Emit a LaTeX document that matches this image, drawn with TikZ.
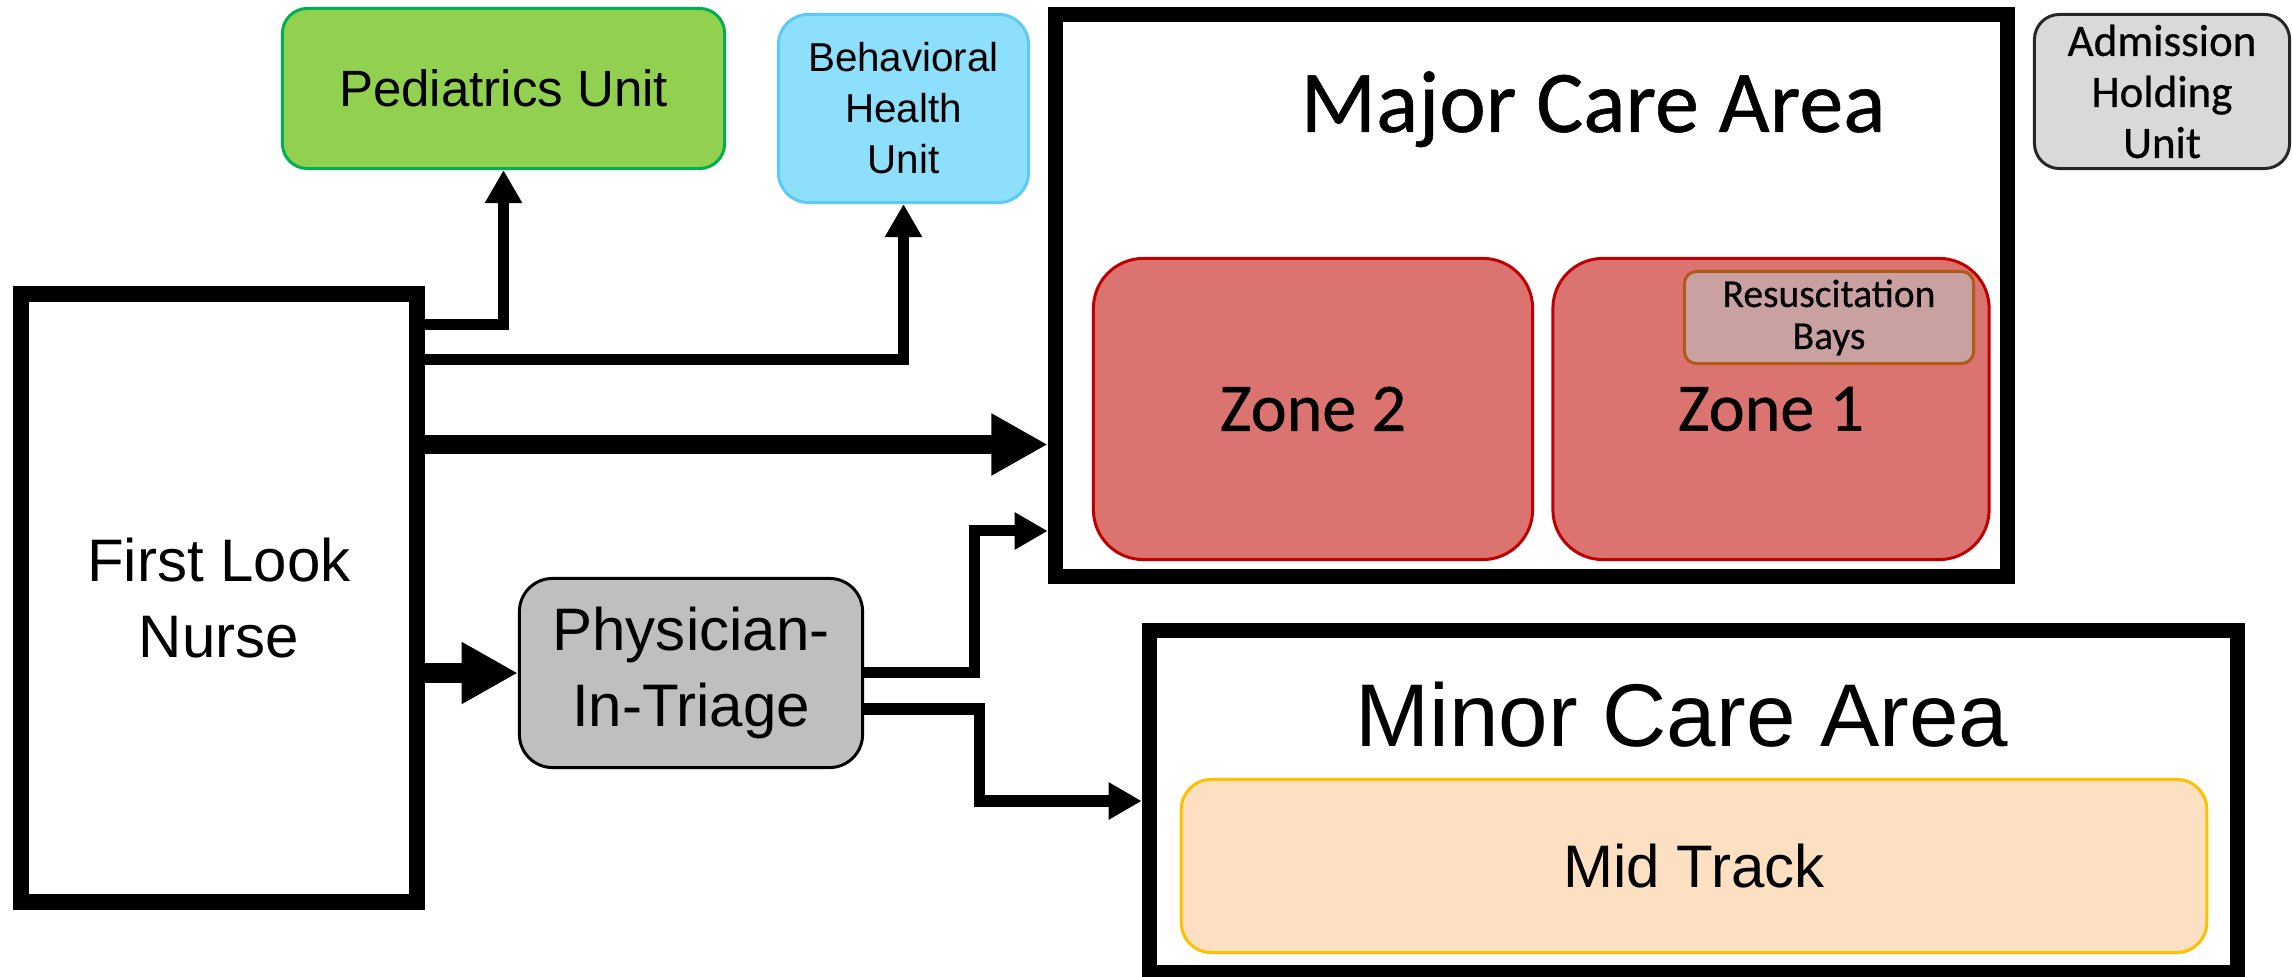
\documentclass[tikz,border=0pt]{standalone}
\usepackage{fontspec}
\setmainfont{Liberation Sans}
\newfontfamily\calibri[FakeBold=0.6]{Carlito}
\usetikzlibrary{arrows.meta}

\definecolor{pedfill}{HTML}{92D050}
\definecolor{peddraw}{HTML}{00B050}
\definecolor{bhfill}{HTML}{8EDFFC}
\definecolor{bhdraw}{HTML}{5BCBF5}
\definecolor{admfill}{HTML}{D9D9D9}
\definecolor{admdraw}{HTML}{262626}
\definecolor{zonefill}{HTML}{DB7370}
\definecolor{zonedraw}{HTML}{C00000}
\definecolor{resfill}{HTML}{C9A1A0}
\definecolor{resdraw}{HTML}{B05A18}
\definecolor{midfill}{HTML}{FDDFC2}
\definecolor{middraw}{HTML}{FFC000}
\definecolor{pitfill}{HTML}{BFBFBF}

\begin{document}
\begin{tikzpicture}[x=0.01cm, y=-0.01cm,
  unitbox/.style={draw, rounded corners=#1, line width=0.85pt, inner sep=0pt, align=center},
  unitbox/.default=7pt,
  areabox/.style={draw, line width=4.41pt, inner sep=0pt},
  conn/.style={line width=3.13pt, -{Triangle[length=9.4pt,width=10pt]}},
  bigconn/.style={line width=5.41pt, -{Triangle[length=16pt,width=16.5pt]}}
]
\useasboundingbox (0,0) rectangle (2292,977);

% large care areas
\node[areabox, minimum width=9.515cm, minimum height=5.615cm] (major) at (1531.5,295.5) {};
\node[areabox, minimum width=10.875cm, minimum height=3.415cm] (minor) at (1693.5,801.5) {};

% area titles
\node[anchor=base, inner sep=0pt, font=\calibri\fontsize{25.04pt}{30pt}\selectfont] (majortitle) at (1593,132) {Major Care Area};
\node[anchor=base, inner sep=0pt, font=\fontsize{25.32pt}{30pt}\selectfont] (minortitle) at (1682,747) {Minor Care Area};

% zones inside the major care area
\node[unitbox=14.2pt, fill=zonefill, draw=zonedraw, minimum width=4.39cm, minimum height=3.01cm,
      font=\calibri\fontsize{19.35pt}{23pt}\selectfont] (zone2) at (1313,409) {Zone 2};
\node[unitbox=14.2pt, fill=zonefill, draw=zonedraw, minimum width=4.36cm, minimum height=3.01cm,
      font=\calibri\fontsize{19.35pt}{23pt}\selectfont] (zone1) at (1771,409) {Zone 1};
\node[unitbox=3.4pt, fill=resfill, draw=resdraw, minimum width=2.89cm, minimum height=0.92cm,
      font=\calibri\fontsize{11.24pt}{11.95pt}\selectfont] (resus) at (1829,317.5) {\raisebox{-1.2pt}{Resuscitation}\\\raisebox{-1.2pt}{Bays}};

% mid track inside the minor care area
\node[unitbox=8.5pt, fill=midfill, draw=middraw, minimum width=10.25cm, minimum height=1.73cm,
      font=\fontsize{17.07pt}{21pt}\selectfont] (mid) at (1694,866) {Mid Track};

% separate units
\node[unitbox=7.1pt, fill=pedfill, draw=peddraw, minimum width=4.42cm, minimum height=1.60cm,
      font=\fontsize{14.51pt}{17pt}\selectfont] (ped) at (503.5,88.5) {Pediatrics Unit};
\node[unitbox=8.5pt, fill=bhfill, draw=bhdraw, minimum width=2.50cm, minimum height=1.88cm,
      font=\fontsize{11.47pt}{14.51pt}\selectfont] (bh) at (903.5,108.5) {Behavioral\\Health\\Unit};
\node[unitbox=7.1pt, fill=admfill, draw=admdraw, minimum width=2.55cm, minimum height=1.54cm,
      font=\calibri\fontsize{12.8pt}{14.51pt}\selectfont] (adm) at (2162,91.5) {\raisebox{-1.2pt}{Admission}\\\raisebox{-1.2pt}{Holding}\\\raisebox{-1.2pt}{Unit}};

% triage
\node[draw, line width=4.55pt, inner sep=0pt, align=center, minimum width=3.96cm, minimum height=6.08cm,
      font=\fontsize{17.07pt}{21.82pt}\selectfont] (fln) at (219,598) {First Look\\Nurse};
\node[unitbox=9.4pt, fill=pitfill, draw=black, minimum width=3.43cm, minimum height=1.89cm,
      font=\fontsize{17.07pt}{21.82pt}\selectfont] (pit) at (691,673) {Physician-\\In-Triage};

% patient flow
\draw[conn] (fln.east |- 0,324.5) -| (ped.south);
\draw[conn] (fln.east |- 0,359.5) -| (bh.south);
\draw[bigconn] (fln.east |- 0,444.5) -- (major.west |- 0,444.5);
\draw[bigconn] (fln.east |- pit.west) -- (pit.west);
\draw[conn] (pit.east) -- ++(110,0) |- (major.west |- 0,531);
\draw[conn] (pit.east |- 0,709) -- ++(115,0) |- (minor.west |- 0,801);
\end{tikzpicture}
\end{document}
